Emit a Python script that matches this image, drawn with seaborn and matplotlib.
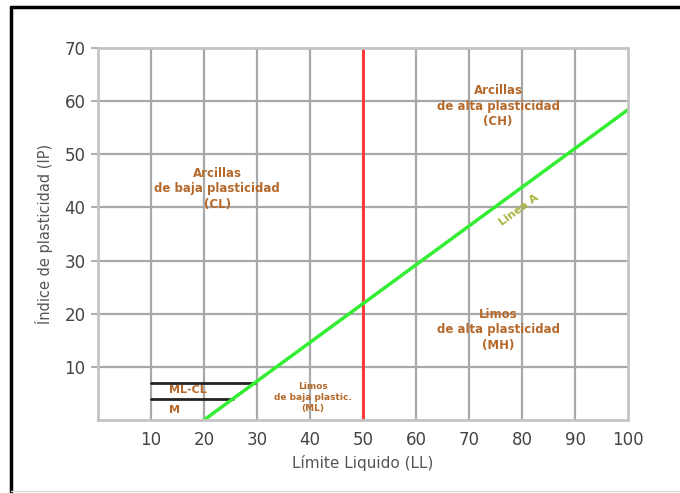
import numpy as np
import pandas as pd
import matplotlib
matplotlib.use("Agg")
import matplotlib.pyplot as plt
import seaborn as sns
from matplotlib.lines import Line2D

# Casagrande plasticity chart values
a_line_ll = [20, 100]
a_line_ip = [0.0, 58.4]          # IP = 0.73 (LL - 20)
b_line_ll = [50, 50]
b_line_ip = [0, 70]
ml_cl_top_ll = [10, 29.6]
ml_cl_top_ip = [7, 7]
ml_cl_bot_ll = [10, 25.5]
ml_cl_bot_ip = [4, 4]

x_ticks = [10, 20, 30, 40, 50, 60, 70, 80, 90, 100]
y_ticks = [10, 20, 30, 40, 50, 60, 70]

zone_labels = ["Arcillas\nde baja plasticidad\n(CL)",
               "Arcillas\nde alta plasticidad\n(CH)",
               "Limos\nde alta plasticidad\n(MH)",
               "Limos\nde baja plastic.\n(ML)",
               "ML-CL",
               "M"]
zone_ll = [22.5, 75.5, 75.5, 40.5, 17.0, 14.5]
zone_ip = [43.5, 59.0, 17.0, 4.2, 5.6, 1.9]
zone_size = [8.5, 8.5, 8.5, 6.5, 8, 8]

sns.set_style("white")
plt.rcParams['font.family'] = ['DejaVu Sans']

fig = plt.figure(figsize=(6.8, 4.93), dpi=100)
ax = fig.add_axes([98 / 680, 73 / 493, 530 / 680, 372 / 493])

grid_c = "#a8a8a8"
for x in x_ticks[:-1]:
    ax.axvline(x, color=grid_c, lw=1.6, zorder=0)
for y in y_ticks[:-1]:
    ax.axhline(y, color=grid_c, lw=1.6, zorder=0)

kw = dict(ax=ax, estimator=None, sort=False)
sns.lineplot(x=ml_cl_top_ll, y=ml_cl_top_ip, color="#222222", lw=2, **kw)
sns.lineplot(x=ml_cl_bot_ll, y=ml_cl_bot_ip, color="#222222", lw=2, **kw)
sns.lineplot(x=b_line_ll, y=b_line_ip, color="#ff3030", lw=2, **kw)
sns.lineplot(x=a_line_ll, y=a_line_ip, color="#33ee33", lw=2.5, **kw)

brown = "#b5692a"
for lab, xx, yy, fs in zip(zone_labels, zone_ll, zone_ip, zone_size):
    ax.text(xx, yy, lab, ha="center", va="center", fontsize=fs,
            fontweight="bold", color=brown, linespacing=1.25)

ax.text(79.5, 39.5, "Linea A", ha="center", va="center", fontsize=8,
        fontweight="bold", color="#a8b43c", rotation=36)

ax.set_xlim(0, 100)
ax.set_ylim(0, 70)
ax.set_xticks(x_ticks)
ax.set_yticks(y_ticks)
ax.tick_params(axis="x", length=0, pad=8, labelsize=12, labelcolor="#444444")
ax.tick_params(axis="y", length=5, width=1.5, color="#b0b0b0", pad=4,
               labelsize=12, labelcolor="#444444", left=True)
for s in ax.spines.values():
    s.set_color("#c4c4c4")
    s.set_linewidth(2)

ax.set_xlabel("Límite Liquido (LL)", fontsize=11, color="#555555", labelpad=4)
ax.set_ylabel("Índice de plasticidad (IP)", fontsize=10.5, color="#555555", labelpad=8)

# screenshot frame
fig.add_artist(Line2D([11 / 680, 11 / 680], [0, 1 - 7 / 493], color="black", lw=2.5))
fig.add_artist(Line2D([11 / 680, 1], [1 - 7 / 493, 1 - 7 / 493], color="black", lw=2.5))
fig.add_artist(Line2D([11 / 680, 1], [2 / 493, 2 / 493], color="#dddddd", lw=1))

fig.savefig("out.png", dpi=100)
